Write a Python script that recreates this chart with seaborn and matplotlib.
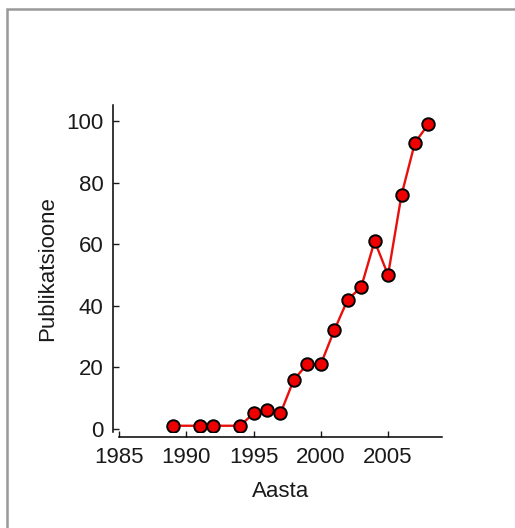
import matplotlib
matplotlib.use("Agg")
import matplotlib.pyplot as plt
import seaborn as sns
import pandas as pd
from matplotlib.patches import Rectangle

# Publications per year
years = [1989, 1991, 1992, 1994, 1995, 1996, 1997, 1998, 1999, 2000,
         2001, 2002, 2003, 2004, 2005, 2006, 2007, 2008]
counts = [1, 1, 1, 1, 5, 6, 5, 16, 21, 21,
          32, 42, 46, 61, 50, 76, 93, 99]
x_ticks = [1985, 1990, 1995, 2000, 2005]
y_ticks = [0, 20, 40, 60, 80, 100]

df = pd.DataFrame({"Aasta": years, "Publikatsioone": counts})

sns.set_style("white")
plt.rcParams["font.family"] = ["Liberation Sans", "DejaVu Sans"]

fig = plt.figure(figsize=(5.15, 5.28), dpi=100)
ax = fig.add_axes([0.231, 0.182, 0.627, 0.619])

sns.lineplot(data=df, x="Aasta", y="Publikatsioone", ax=ax,
             color="#e8100c", linewidth=1.7, marker="o", markersize=9,
             markerfacecolor="#ee0000", markeredgecolor="black",
             markeredgewidth=1.4)

ax.set_xlim(1985, 2009)
ax.set_ylim(-1, 105.2)
ax.set_xticks(x_ticks)
ax.set_yticks(y_ticks)

for side in ("top", "right"):
    ax.spines[side].set_visible(False)
for side in ("left", "bottom"):
    ax.spines[side].set_color("black")
    ax.spines[side].set_linewidth(1.1)
    ax.spines[side].set_position(("outward", 4))

ax.tick_params(axis="both", direction="in", length=4, width=1.0,
               bottom=True, left=True, labelsize=16, colors="#1a1a1a", pad=7)
ax.set_xlabel("Aasta", fontsize=16, labelpad=9, color="#1a1a1a")
ax.set_ylabel("Publikatsioone", fontsize=16, labelpad=6, color="#1a1a1a")

# outer frame
fig.patches.append(Rectangle((7 / 515, -0.05), 1.2, (528 - 9) / 528 + 0.05,
                             transform=fig.transFigure, fill=False,
                             edgecolor="#999999", linewidth=1.8))

fig.savefig("out.png", dpi=100)
